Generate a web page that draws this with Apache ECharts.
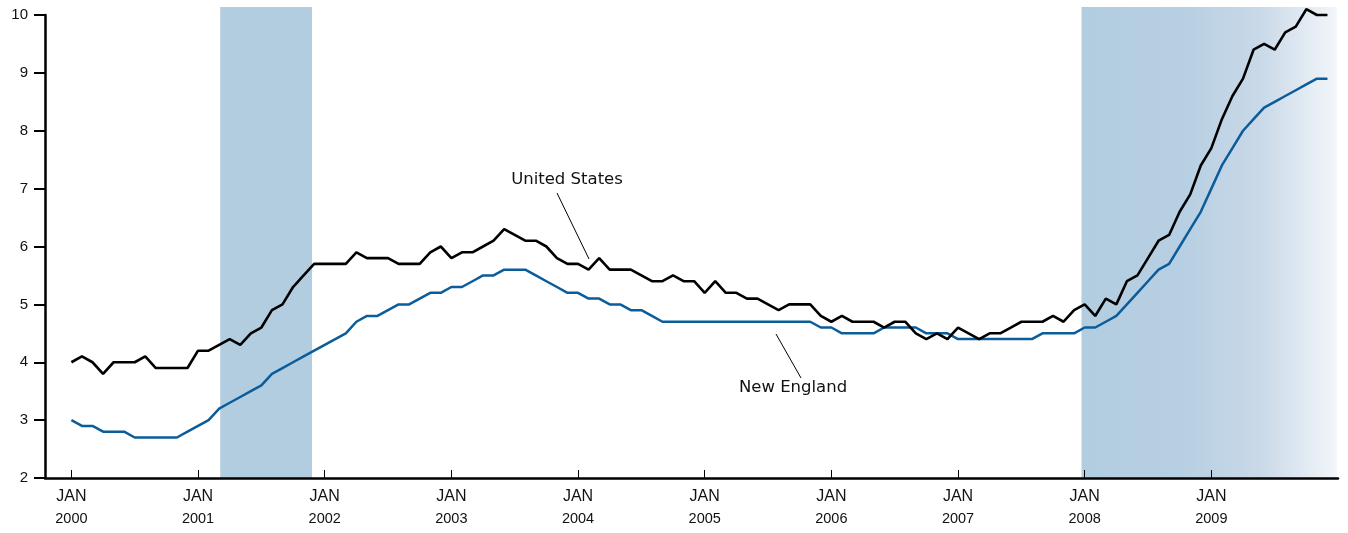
<!DOCTYPE html>
<html>
<head>
    <meta charset="UTF-8">
    <title>Unemployment rate</title>
    <script type="text/javascript" src="https://cdn.jsdelivr.net/npm/echarts@6/dist/echarts.min.js"></script>
    <style type="text/css">
        html, body { margin: 0; padding: 0; background: #fff; }
        #chart { width: 1348px; height: 533px; }
    </style>
</head>
<body>
<div id="chart"></div>

<script type="text/javascript">
    // monthly, Jan 2000 .. Dec 2009 (index 0 = Jan 2000)
    var usRate = [
        4.0, 4.1, 4.0, 3.8, 4.0, 4.0, 4.0, 4.1, 3.9, 3.9, 3.9, 3.9,
        4.2, 4.2, 4.3, 4.4, 4.3, 4.5, 4.6, 4.9, 5.0, 5.3, 5.5, 5.7,
        5.7, 5.7, 5.7, 5.9, 5.8, 5.8, 5.8, 5.7, 5.7, 5.7, 5.9, 6.0,
        5.8, 5.9, 5.9, 6.0, 6.1, 6.3, 6.2, 6.1, 6.1, 6.0, 5.8, 5.7,
        5.7, 5.6, 5.8, 5.6, 5.6, 5.6, 5.5, 5.4, 5.4, 5.5, 5.4, 5.4,
        5.2, 5.4, 5.2, 5.2, 5.1, 5.1, 5.0, 4.9, 5.0, 5.0, 5.0, 4.8,
        4.7, 4.8, 4.7, 4.7, 4.7, 4.6, 4.7, 4.7, 4.5, 4.4, 4.5, 4.4,
        4.6, 4.5, 4.4, 4.5, 4.5, 4.6, 4.7, 4.7, 4.7, 4.8, 4.7, 4.9,
        5.0, 4.8, 5.1, 5.0, 5.4, 5.5, 5.8, 6.1, 6.2, 6.6, 6.9, 7.4,
        7.7, 8.2, 8.6, 8.9, 9.4, 9.5, 9.4, 9.7, 9.8, 10.1, 10.0, 10.0
    ];
    var neRate = [
        3.0, 2.9, 2.9, 2.8, 2.8, 2.8, 2.7, 2.7, 2.7, 2.7, 2.7, 2.8,
        2.9, 3.0, 3.2, 3.3, 3.4, 3.5, 3.6, 3.8, 3.9, 4.0, 4.1, 4.2,
        4.3, 4.4, 4.5, 4.7, 4.8, 4.8, 4.9, 5.0, 5.0, 5.1, 5.2, 5.2,
        5.3, 5.3, 5.4, 5.5, 5.5, 5.6, 5.6, 5.6, 5.5, 5.4, 5.3, 5.2,
        5.2, 5.1, 5.1, 5.0, 5.0, 4.9, 4.9, 4.8, 4.7, 4.7, 4.7, 4.7,
        4.7, 4.7, 4.7, 4.7, 4.7, 4.7, 4.7, 4.7, 4.7, 4.7, 4.7, 4.6,
        4.6, 4.5, 4.5, 4.5, 4.5, 4.6, 4.6, 4.6, 4.6, 4.5, 4.5, 4.5,
        4.4, 4.4, 4.4, 4.4, 4.4, 4.4, 4.4, 4.4, 4.5, 4.5, 4.5, 4.5,
        4.6, 4.6, 4.7, 4.8, 5.0, 5.2, 5.4, 5.6, 5.7, 6.0, 6.3, 6.6,
        7.0, 7.4, 7.7, 8.0, 8.2, 8.4, 8.5, 8.6, 8.7, 8.8, 8.9, 8.9
    ];
    var years = ['2000', '2001', '2002', '2003', '2004', '2005', '2006', '2007', '2008', '2009'];
    // recession spans, in months from Jan 2000
    var recessions = [[14.1, 22.8], [95.7, 119.9]];

    var chart = echarts.init(document.getElementById('chart'));

    function toPoints(arr) {
        var out = [];
        for (var i = 0; i < arr.length; i++) {
            out.push([i, arr[i]]);
        }
        return out;
    }

    var yearTicks = [];
    for (var i = 0; i < years.length; i++) {
        yearTicks.push(i * 12);
    }

    var shadeFlat = '#b3cde0';
    var shadeFade = {
        type: 'linear', x: 0, y: 0, x2: 1, y2: 0,
        colorStops: [
            {offset: 0, color: '#b3cde0'},
            {offset: 0.4, color: '#b7cfe2'},
            {offset: 0.7, color: '#c9d9e8'},
            {offset: 1, color: '#f3f6fa'}
        ]
    };

    var labelFont = '"Liberation Sans", Arial, sans-serif';

    chart.setOption({
        animation: false,
        grid: [
            // main plot
            {left: 45, right: 10, top: 15, bottom: 55, outerBoundsMode: 'none'},
            // shading reaches a little above the 10 line
            {left: 45, right: 10, top: 7, bottom: 55, outerBoundsMode: 'none'}
        ],
        xAxis: [
            {
                type: 'value',
                gridIndex: 0,
                min: -2.5,
                max: 120,
                z: 5,
                splitLine: {show: false},
                axisLine: {show: true, onZero: false, lineStyle: {color: '#000', width: 2.5}},
                axisTick: {
                    show: true, inside: true, length: 8,
                    customValues: yearTicks,
                    lineStyle: {color: '#000', width: 1}
                },
                axisLabel: {
                    customValues: yearTicks,
                    margin: 8,
                    formatter: function (v) {
                        return '{a|JAN}\n{b|' + years[Math.round(v / 12)] + '}';
                    },
                    rich: {
                        a: {fontFamily: labelFont, fontSize: 16, color: '#111', lineHeight: 22},
                        b: {fontFamily: labelFont, fontSize: 14.5, color: '#111', lineHeight: 22}
                    }
                }
            },
            {
                type: 'value',
                gridIndex: 1,
                min: -2.5,
                max: 120,
                show: false
            }
        ],
        yAxis: [
            {
                type: 'value',
                gridIndex: 0,
                min: 2,
                max: 10,
                interval: 1,
                z: 5,
                splitLine: {show: false},
                axisLine: {show: true, onZero: false, lineStyle: {color: '#000', width: 2.5}},
                axisTick: {show: true, length: 11, lineStyle: {color: '#000', width: 2}},
                axisLabel: {
                    margin: 17,
                    fontFamily: labelFont,
                    fontSize: 15,
                    color: '#111'
                }
            },
            {
                type: 'value',
                gridIndex: 1,
                min: 2,
                max: 10.14,
                show: false
            }
        ],
        series: [
            {
                name: 'recessions',
                type: 'line',
                xAxisIndex: 1,
                yAxisIndex: 1,
                data: [],
                z: 1,
                silent: true,
                markArea: {
                    silent: true,
                    data: [
                        [{xAxis: recessions[0][0], yAxis: 2, itemStyle: {color: shadeFlat}},
                         {xAxis: recessions[0][1], yAxis: 10.14}],
                        [{xAxis: recessions[1][0], yAxis: 2, itemStyle: {color: shadeFade}},
                         {xAxis: recessions[1][1], yAxis: 10.14}]
                    ]
                }
            },
            {
                name: 'New England',
                type: 'line',
                data: toPoints(neRate),
                showSymbol: false,
                clip: false,
                z: 3,
                lineStyle: {color: '#0b5c9a', width: 2.5},
                emphasis: {disabled: true}
            },
            {
                name: 'United States',
                type: 'line',
                data: toPoints(usRate),
                showSymbol: false,
                clip: false,
                z: 4,
                lineStyle: {color: '#000', width: 2.6},
                emphasis: {disabled: true}
            }
        ],
        graphic: [
            {
                type: 'text', x: 567, y: 180, z: 10,
                style: {
                    text: 'United States', fill: '#111',
                    font: '16.5px "DejaVu Sans", sans-serif',
                    textAlign: 'center', textVerticalAlign: 'middle'
                }
            },
            {
                type: 'line', z: 10,
                shape: {x1: 557, y1: 193, x2: 589, y2: 259},
                style: {stroke: '#000', lineWidth: 1}
            },
            {
                type: 'text', x: 793, y: 388, z: 10,
                style: {
                    text: 'New England', fill: '#111',
                    font: '16.5px "DejaVu Sans", sans-serif',
                    textAlign: 'center', textVerticalAlign: 'middle'
                }
            },
            {
                type: 'line', z: 10,
                shape: {x1: 776, y1: 334, x2: 801, y2: 378},
                style: {stroke: '#000', lineWidth: 1}
            }
        ]
    });
</script>
</body>
</html>
